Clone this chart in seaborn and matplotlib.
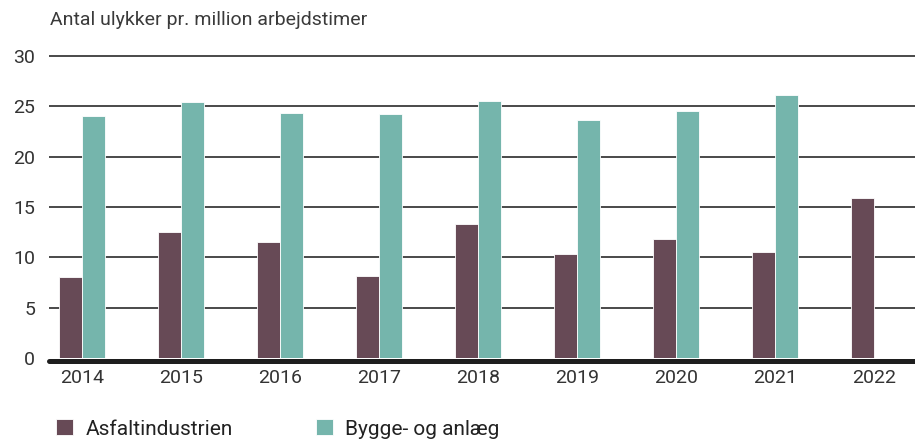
import matplotlib
matplotlib.use("Agg")
import matplotlib.pyplot as plt
import seaborn as sns
import pandas as pd
import numpy as np

years = ["2014", "2015", "2016", "2017", "2018", "2019", "2020", "2021", "2022"]
asfalt = [8.0, 12.5, 11.5, 8.1, 13.3, 10.3, 11.8, 10.5, 15.9]
bygge = [24.0, 25.4, 24.3, 24.2, 25.5, 23.6, 24.5, 26.1, np.nan]
series_names = ["Asfaltindustrien", "Bygge- og anlæg"]
colors = ["#674a56", "#75b5ac"]
yticks = [0, 5, 10, 15, 20, 25, 30]
title = "Antal ulykker pr. million arbejdstimer"

df = pd.DataFrame({
    "year": years * 2,
    "value": asfalt + bygge,
    "series": [series_names[0]] * len(years) + [series_names[1]] * len(years),
})

sns.set_theme(style="white")
plt.rcParams["font.family"] = ["Roboto", "DejaVu Sans"]

fig = plt.figure(figsize=(9.15, 4.41), dpi=100)
ax = fig.add_axes([49 / 915, 83 / 441, 1 - 49 / 915, 305 / 441])

sns.barplot(data=df, x="year", y="value", hue="series", hue_order=series_names,
            palette=colors, width=0.47, saturation=1, edgecolor="white",
            linewidth=0.6, ax=ax, legend=True)

ax.set_ylim(0, 30.3)
ax.set_xlim(-0.333, 8.414)
ax.set_yticks(yticks)
ax.set_xlabel("")
ax.set_ylabel("")
for s in ax.spines.values():
    s.set_visible(False)
for y in yticks[1:]:
    ax.axhline(y, color="#3a3a3a", lw=1.3, zorder=0)
ax.axhline(-0.25, color="#1e1e1e", lw=3.6, zorder=5, clip_on=False)
ax.tick_params(axis="both", length=0, labelsize=14, colors="#333333")
ax.tick_params(axis="y", pad=10)
ax.tick_params(axis="x", pad=8)

fig.text(50 / 915, 1 - 11 / 441, title, fontsize=14,
         color="#3a3a3a", va="top", ha="left")

handles, labels = ax.get_legend_handles_labels()
ax.legend_.remove()
fig.legend(handles, labels, loc="upper left", bbox_to_anchor=(48 / 915, 1 - 411 / 441),
           ncol=2, frameon=False, handlelength=0.8, handleheight=0.8,
           handletextpad=0.6, columnspacing=4.0, labelcolor="#222222", borderaxespad=0,
           prop={"size": 15})

fig.savefig("out.png", dpi=100)
